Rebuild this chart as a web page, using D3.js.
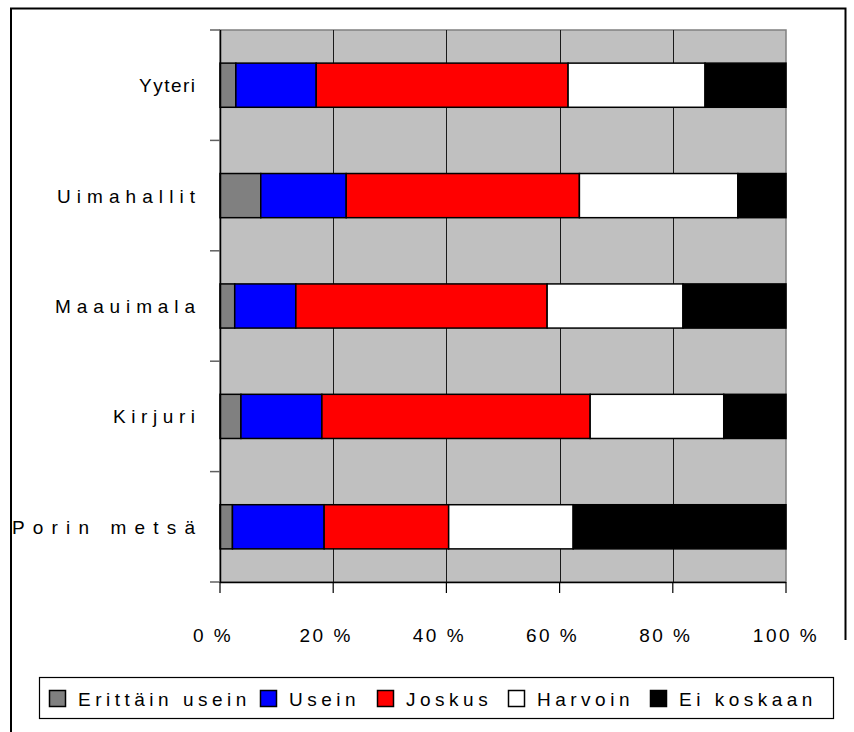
<!DOCTYPE html>
<html>
<head>
<meta charset="utf-8">
<script src="https://cdn.jsdelivr.net/npm/d3@7"></script>
<style>
  html, body { margin: 0; padding: 0; background: #fff; }
  svg text { font-family: "Liberation Sans", Arial, sans-serif; fill: #000; }
</style>
</head>
<body>
<svg id="chart" width="854" height="732"></svg>
<script>
// Places (top to bottom) and answer categories
const places = ["Yyteri", "Uimahallit", "Maauimala", "Kirjuri", "Porin metsä"];
const answers = ["Erittäin usein", "Usein", "Joskus", "Harvoin", "Ei koskaan"];
const colors = ["#808080", "#0000ff", "#ff0000", "#ffffff", "#000000"];

// Shares (%) per place, in answer order
const erittainUsein = [2.8, 7.2, 2.6, 3.7, 2.2];
const usein         = [14.2, 15.1, 10.8, 14.3, 16.2];
const joskus        = [44.5, 41.2, 44.4, 47.4, 22.0];
const harvoin       = [24.2, 28.0, 24.0, 23.6, 22.0];
const eiKoskaan     = [14.3, 8.5, 18.2, 11.0, 37.6];

const tickValues = [0, 20, 40, 60, 80, 100];
const tickLabels = ["0 %", "20 %", "40 %", "60 %", "80 %", "100 %"];

const series = [erittainUsein, usein, joskus, harvoin, eiKoskaan];
const rows = places.map((p, i) => {
  const r = { place: p };
  answers.forEach((a, j) => { r[a] = series[j][i]; });
  return r;
});

const FONT = 19, SPACING = 4.5;
// Spread of each category label (the original typesetting is loose and uneven)
const labelSpread = { "Yyteri": 56, "Uimahallit": 138, "Maauimala": 140, "Kirjuri": 82, "Porin metsä": 183 };

const svg = d3.select("#chart");
const plot = { left: 220, right: 786, top: 30, bottom: 582 };

// Outer frame
svg.append("path")
  .attr("d", "M11,732 V8.5 H845.5 V640")
  .attr("fill", "none").attr("stroke", "#000").attr("stroke-width", 2);

const x = d3.scaleLinear().domain([0, 100]).range([plot.left, plot.right]);
const y = d3.scaleBand().domain(places).range([plot.top, plot.bottom]).paddingInner(0.6).paddingOuter(0.3);
const yOuter = d3.scaleBand().domain(places).range([plot.top, plot.bottom]);

// Plot background
svg.append("rect")
  .attr("x", plot.left).attr("y", plot.top)
  .attr("width", plot.right - plot.left).attr("height", plot.bottom - plot.top)
  .attr("fill", "#c0c0c0").attr("stroke", "#808080").attr("stroke-width", 1.5);

// Vertical gridlines
svg.append("g").selectAll("line")
  .data(tickValues.slice(1, -1))
  .join("line")
  .attr("x1", d => Math.round(x(d)) + 0.5).attr("x2", d => Math.round(x(d)) + 0.5)
  .attr("y1", plot.top).attr("y2", plot.bottom)
  .attr("stroke", "#1a1a1a").attr("stroke-width", 1);

// Stacked bars
const stacked = d3.stack().keys(answers)(rows);
svg.append("g").selectAll("g")
  .data(stacked)
  .join("g")
  .attr("fill", (d, i) => colors[i])
  .selectAll("rect")
  .data(d => d)
  .join("rect")
  .attr("x", d => x(d[0]))
  .attr("y", d => y(d.data.place))
  .attr("width", d => x(d[1]) - x(d[0]))
  .attr("height", y.bandwidth())
  .attr("stroke", "#000").attr("stroke-width", 1.5);

// Y axis: line with ticks on category boundaries
const yAxis = svg.append("g");
yAxis.append("line")
  .attr("x1", plot.left + 0.5).attr("x2", plot.left + 0.5)
  .attr("y1", plot.top).attr("y2", plot.bottom)
  .attr("stroke", "#000").attr("stroke-width", 1.5);
const boundaries = places.map(p => yOuter(p)).concat([plot.bottom]);
yAxis.selectAll("line.tick")
  .data(boundaries)
  .join("line").attr("class", "tick")
  .attr("x1", plot.left - 10).attr("x2", plot.left)
  .attr("y1", d => d).attr("y2", d => d)
  .attr("stroke", "#606060").attr("stroke-width", 1.5);
yAxis.selectAll("text")
  .data(places)
  .join("text")
  .attr("x", 195)
  .attr("y", d => yOuter(d) + yOuter.bandwidth() / 2 + 7)
  .attr("text-anchor", "end")
  .attr("font-size", FONT)
  .attr("textLength", d => labelSpread[d])
  .attr("lengthAdjust", "spacing")
  .text(d => d);

// X axis
const xAxis = svg.append("g");
xAxis.append("line")
  .attr("x1", plot.left).attr("x2", plot.right)
  .attr("y1", plot.bottom + 0.5).attr("y2", plot.bottom + 0.5)
  .attr("stroke", "#000").attr("stroke-width", 1.5);
xAxis.selectAll("line.tick")
  .data(tickValues)
  .join("line").attr("class", "tick")
  .attr("x1", d => x(d)).attr("x2", d => x(d))
  .attr("y1", plot.bottom).attr("y2", plot.bottom + 11)
  .attr("stroke", "#000").attr("stroke-width", 1.2);
xAxis.selectAll("text")
  .data(tickValues)
  .join("text")
  .attr("x", d => x(d) - (d === 100 ? 0 : 7))
  .attr("y", 642)
  .attr("text-anchor", "middle")
  .attr("font-size", FONT)
  .attr("letter-spacing", 2.5)
  .text((d, i) => tickLabels[i]);

// Legend
const legend = svg.append("g");
legend.append("rect")
  .attr("x", 39.5).attr("y", 677.5).attr("width", 794).attr("height", 41)
  .attr("fill", "#fff").attr("stroke", "#000").attr("stroke-width", 1.2);
const legendX = [49, 260, 377, 508, 650];
const item = legend.selectAll("g.item")
  .data(answers)
  .join("g").attr("class", "item")
  .attr("transform", (d, i) => `translate(${legendX[i]},0)`);
item.append("rect")
  .attr("x", 0.5).attr("y", 690.5).attr("width", 16).attr("height", 16)
  .attr("fill", (d, i) => colors[i]).attr("stroke", "#000").attr("stroke-width", 1.5);
item.append("text")
  .attr("x", 29).attr("y", 706)
  .attr("font-size", FONT)
  .attr("letter-spacing", SPACING)
  .text(d => d);
</script>
</body>
</html>
